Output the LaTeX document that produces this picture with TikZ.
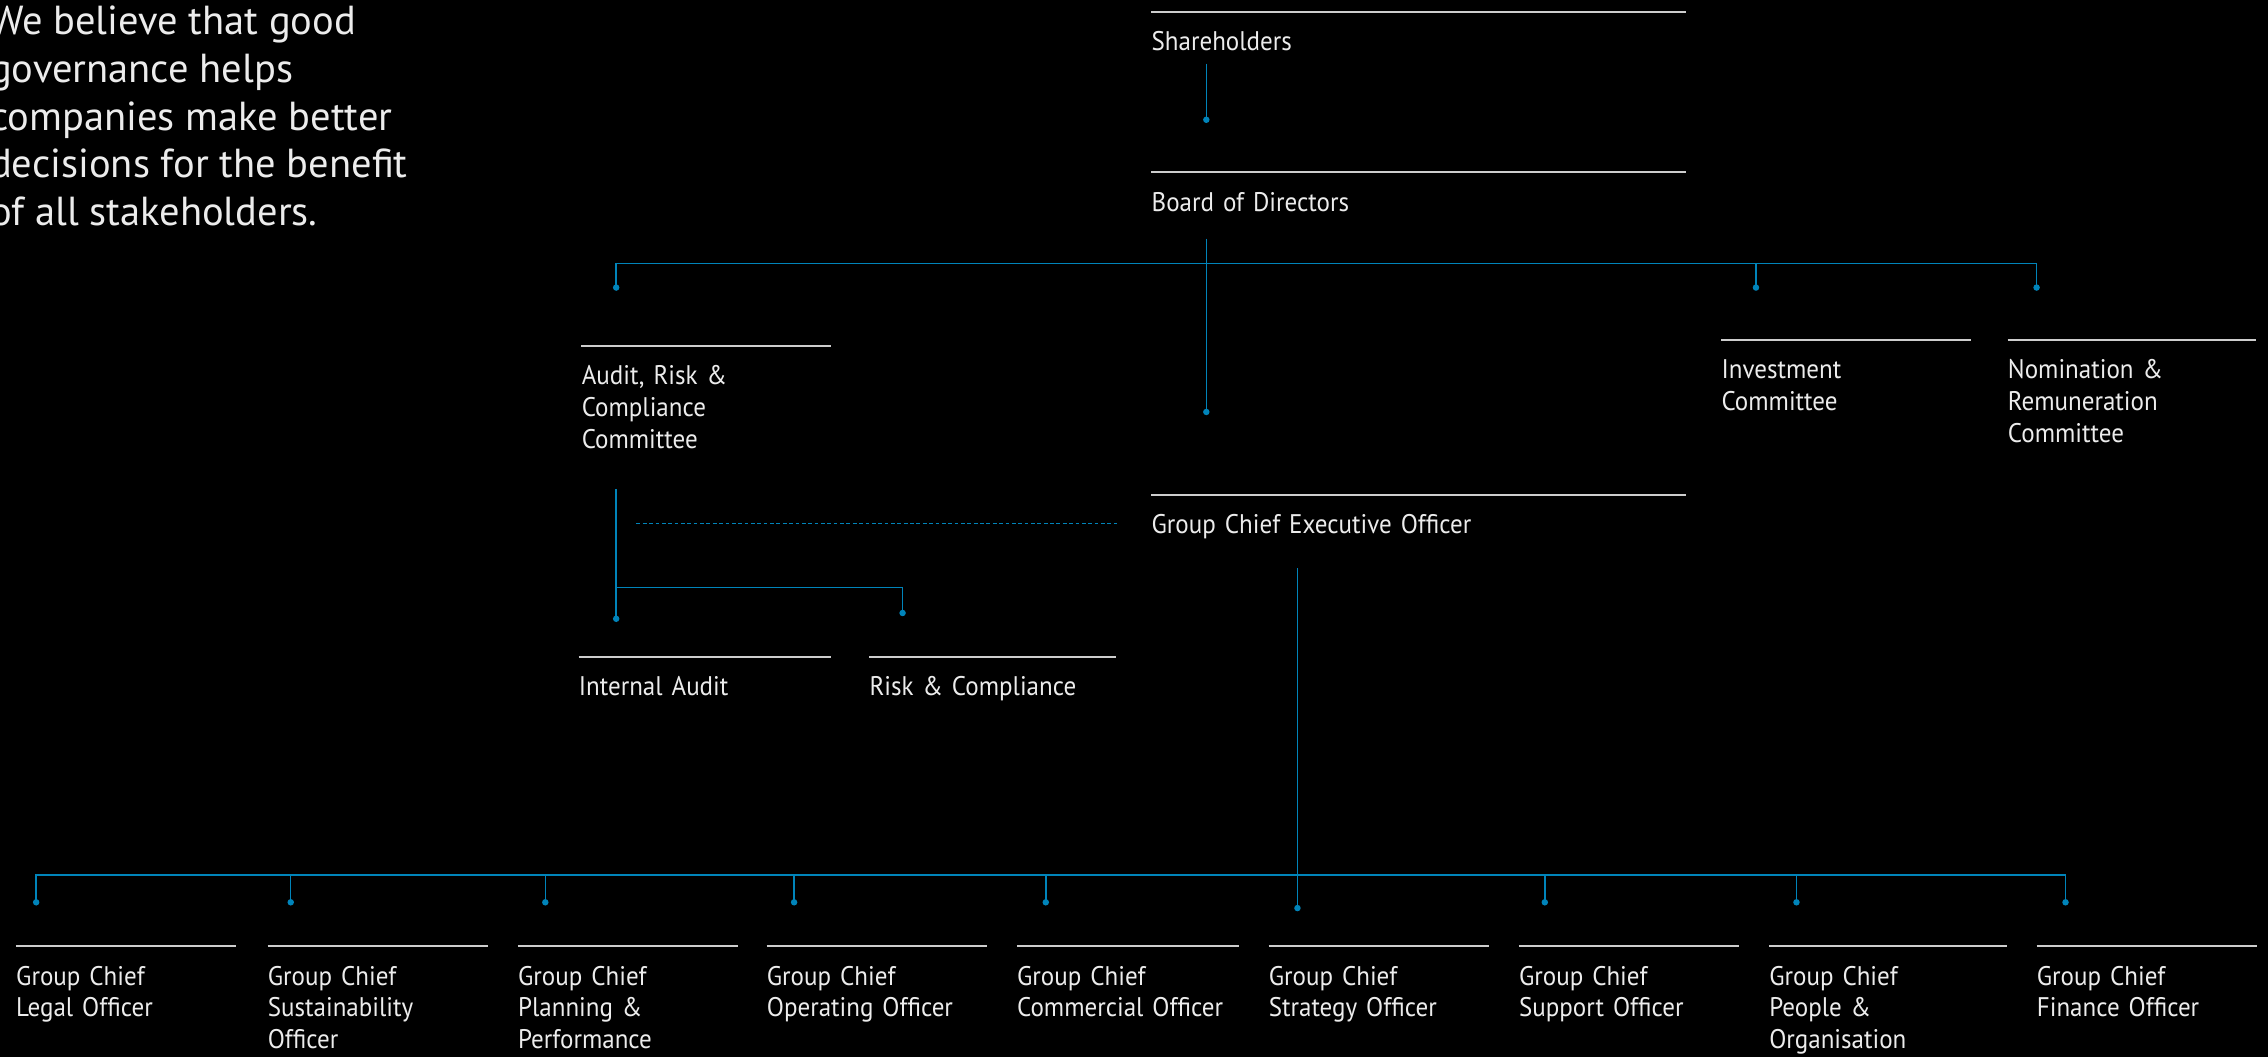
\documentclass[tikz,border=0pt]{standalone}
\usepackage{fontspec}
\setmainfont{PT Sans}
\newfontfamily\narrowsans[FakeStretch=0.93]{PT Sans}
\usetikzlibrary{arrows.meta}
\definecolor{conncol}{RGB}{0,132,186}
\definecolor{rulecol}{RGB}{205,205,205}
\definecolor{txtcol}{RGB}{236,236,236}
\newcommand{\lblfont}{\narrowsans\fontsize{18.6}{22}\selectfont}
\newcommand{\quotefont}{\fontsize{28}{33}\selectfont}
\tikzset{
  unit/.style={anchor=base west, inner sep=0pt, text width=#1, align=left,
               font=\lblfont, text=txtcol},
  rule/.style={draw=rulecol, line width=1.4pt},
  conn/.style={draw=conncol, line width=1pt},
  dotend/.style={-{Circle[length=4.4pt,width=4.4pt]}},
  dotted link/.style={draw=conncol, line width=1pt, dash pattern=on 2.6pt off 1.8pt},
}
\begin{document}
\begin{tikzpicture}[x=1pt,y=1pt]
  % canvas
  \fill[black] (0,0) rectangle (1568,-731);
  \useasboundingbox (0,0) rectangle (1568,-731);

  % statement on the left (anchored on the baseline of its last line)
  \node[anchor=base west, inner sep=0pt, align=left, font=\quotefont, text=txtcol]
    (quote) at (-7,-156)
    {We believe that good\\governance helps\\companies make better\\decisions for the benefit\\of all stakeholders.};

  % board level
  \node[unit=369] (sh)  at (796,-35)  {Shareholders};
  \node[unit=369] (bd)  at (796,-146) {Board of Directors};
  \node[unit=172] (arc) at (402,-266) {Audit, Risk \&\\Compliance\\Committee};
  \node[unit=172] (inv) at (1190,-262) {Investment\\Committee};
  \node[unit=171] (nrc) at (1388,-262) {Nomination \&\\Remuneration\\Committee};
  \node[unit=369] (ceo) at (796,-369) {Group Chief Executive Officer};
  \node[unit=174] (ia)  at (400,-481) {Internal Audit};
  \node[unit=170] (rc)  at (601,-481) {Risk \& Compliance};

  % executive level
  \node[unit=152] (legal) at (11,-681)   {Group Chief\\Legal Officer};
  \node[unit=152] (sust)  at (185,-681)  {Group Chief\\Sustainability\\Officer};
  \node[unit=152] (plan)  at (358,-681)  {Group Chief\\Planning \&\\Performance};
  \node[unit=152] (oper)  at (530,-681)  {Group Chief\\Operating Officer};
  \node[unit=153] (comm)  at (703,-681)  {Group Chief\\Commercial Officer};
  \node[unit=152] (strat) at (877,-681)  {Group Chief\\Strategy Officer};
  \node[unit=152] (supp)  at (1050,-681) {Group Chief\\Support Officer};
  \node[unit=164] (peop)  at (1223,-681) {Group Chief\\People \&\\Organisation};
  \node[unit=152] (fin)   at (1408,-681) {Group Chief\\Finance Officer};

  % rules above every unit
  \foreach \n in {sh,bd,arc,inv,nrc,ceo,ia,rc,legal,sust,plan,oper,comm,strat,supp,peop,fin}
    \draw[rule] ([yshift=27pt]\n.base west) -- ([yshift=27pt]\n.base east);

  % connector end points
  \coordinate (sh-out)  at (834,-44);
  \coordinate (bd-in)   at (834,-85);
  \coordinate (bd-out)  at (834,-165);
  \coordinate (bd-hub)  at (834,-182);
  \coordinate (arc-in)  at (426,-201);
  \coordinate (inv-in)  at (1214,-201);
  \coordinate (nrc-in)  at (1408,-201);
  \coordinate (ceo-in)  at (834,-287);
  \coordinate (arc-out) at (426,-338);
  \coordinate (arc-hub) at (426,-406);
  \coordinate (ia-in)   at (426,-430);
  \coordinate (rc-in)   at (624,-426);
  \coordinate (link-a)  at (440,-362);
  \coordinate (link-b)  at (772,-362);
  \coordinate (ceo-out) at (897,-393);
  \coordinate (ceo-hub) at (897,-605);
  \coordinate (legal-in) at (25,-626);
  \coordinate (sust-in)  at (201,-626);
  \coordinate (plan-in)  at (377,-626);
  \coordinate (oper-in)  at (549,-626);
  \coordinate (comm-in)  at (723,-626);
  \coordinate (strat-in) at (897,-630);
  \coordinate (supp-in)  at (1068,-626);
  \coordinate (peop-in)  at (1242,-626);
  \coordinate (fin-in)   at (1428,-626);

  % shareholders to board
  \draw[conn,dotend] (sh-out) -- (bd-in);

  % board to committees and chief executive
  \draw[conn] (bd-out) -- (bd-hub);
  \draw[conn,dotend] (bd-hub) -| (arc-in);
  \draw[conn,dotend] (bd-hub) -| (inv-in);
  \draw[conn,dotend] (bd-hub) -| (nrc-in);
  \draw[conn,dotend] (bd-hub) -- (ceo-in);

  % audit committee to its functions
  \draw[conn] (arc-out) -- (arc-hub);
  \draw[conn,dotend] (arc-hub) -- (ia-in);
  \draw[conn,dotend] (arc-hub) -| (rc-in);

  % reporting line between audit committee and chief executive
  \draw[dotted link] (link-a) -- (link-b);

  % chief executive to group chiefs
  \draw[conn] (ceo-out) -- (ceo-hub);
  \foreach \n in {legal,sust,plan,oper,comm,supp,peop,fin}
    \draw[conn,dotend] (ceo-hub) -| (\n-in);
  \draw[conn,dotend] (ceo-hub) -- (strat-in);
\end{tikzpicture}
\end{document}
